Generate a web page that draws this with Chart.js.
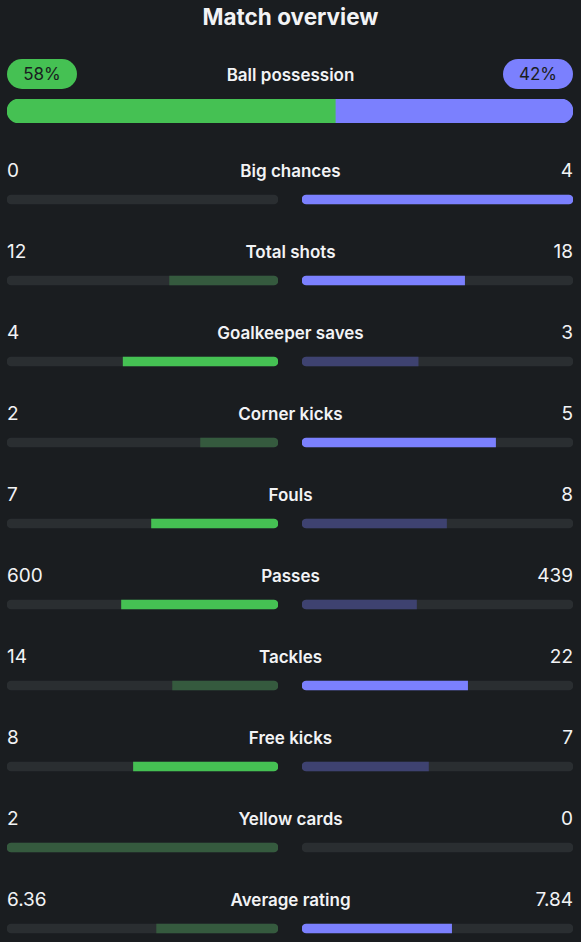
<!DOCTYPE html>
<html>
<head>
<meta charset="utf-8">
<script src="https://cdn.jsdelivr.net/npm/chart.js@4"></script>
<style>
  html, body { margin: 0; padding: 0; }
  body {
    width: 581px; height: 942px; overflow: hidden; position: relative;
    background: #1a1d20; color: #f2f3f5; font-family: Inter, "Noto Sans", sans-serif;
  }
  .title { position: absolute; top: 3px; left: 0; width: 581px; text-align: center;
    font-size: 22.5px; font-weight: 700; line-height: 28px; }
  .label { position: absolute; left: 120px; width: 341px; text-align: center;
    font-size: 17px; font-weight: 600; line-height: 22px; }
  .val { position: absolute; font-size: 19px; line-height: 22px; }
  .val.l { left: 7px; }
  .val.r { right: 8px; text-align: right; }
  .pill { position: absolute; top: 59px; width: 70px; height: 30px; border-radius: 15px;
    color: #1a1d20; font-size: 17px; line-height: 30px; text-align: center; }
  .box { position: absolute; }
</style>
</head>
<body>
<div class="title">Match overview</div>
<div class="pill" id="pillHome" style="left:7px;background:#45c153"></div>
<div class="pill" id="pillAway" style="left:503px;background:#7b80fe"></div>
<div class="label" style="top:64px">Ball possession</div>
<div class="box" style="left:7px;top:99px;width:566px;height:24px"><canvas id="possession" width="566" height="24"></canvas></div>
<div id="texts"></div>
<div class="box" style="left:7px;top:159px;width:271px;height:810px"><canvas id="homeBars" width="271" height="810"></canvas></div>
<div class="box" style="left:302px;top:159px;width:271px;height:810px"><canvas id="awayBars" width="271" height="810"></canvas></div>
<script>
  const categories = ['Big chances', 'Total shots', 'Goalkeeper saves', 'Corner kicks', 'Fouls',
    'Passes', 'Tackles', 'Free kicks', 'Yellow cards', 'Average rating'];
  const homeValues = [0, 12, 4, 2, 7, 600, 14, 8, 2, 6.36];
  const awayValues = [4, 18, 3, 5, 8, 439, 22, 7, 0, 7.84];
  const lowerIsBetter = ['Fouls', 'Yellow cards'];
  const possession = [58, 42];

  const GREEN = '#45c153', GREEN_DIM = '#355a3e';
  const BLUE = '#7b80fe', BLUE_DIM = '#3e4270';
  const TRACK = '#2a2e31';

  document.getElementById('pillHome').textContent = possession[0] + '%';
  document.getElementById('pillAway').textContent = possession[1] + '%';

  // texts for each stat row
  const texts = document.getElementById('texts');
  categories.forEach((c, i) => {
    const top = 160 + i * 81;
    texts.insertAdjacentHTML('beforeend',
      `<div class="val l" style="top:${top}px">${homeValues[i]}</div>` +
      `<div class="label" style="top:${top}px">${c}</div>` +
      `<div class="val r" style="top:${top}px">${awayValues[i]}</div>`);
  });

  const share = (v, i) => {
    const sum = homeValues[i] + awayValues[i];
    return sum && v ? v / sum : null;
  };
  const homeWins = categories.map((c, i) => lowerIsBetter.includes(c)
    ? homeValues[i] < awayValues[i] : homeValues[i] > awayValues[i]);
  const awayWins = categories.map((c, i) => lowerIsBetter.includes(c)
    ? awayValues[i] < homeValues[i] : awayValues[i] > homeValues[i]);

  function sideChart(id, values, wins, bright, dim, reverse) {
    const fracs = values.map((v, i) => share(v, i));
    new Chart(document.getElementById(id), {
      type: 'bar',
      data: {
        labels: categories,
        datasets: [{
          data: fracs,
          backgroundColor: wins.map(w => w ? bright : dim),
          borderRadius: 4.5,
          borderSkipped: ctx => fracs[ctx.dataIndex] >= 1 ? false : 'end',
          barThickness: 9,
          grouped: false
        }, {
          data: categories.map(() => 1),
          backgroundColor: TRACK,
          borderRadius: 4.5,
          borderSkipped: false,
          barThickness: 9,
          grouped: false
        }]
      },
      options: {
        indexAxis: 'y',
        responsive: false,
        animation: false,
        events: [],
        layout: { padding: 0 },
        plugins: { legend: { display: false }, tooltip: { enabled: false } },
        scales: {
          x: { display: false, min: 0, max: 1, reverse },
          y: { display: false }
        }
      }
    });
  }

  sideChart('homeBars', homeValues, homeWins, GREEN, GREEN_DIM, true);
  sideChart('awayBars', awayValues, awayWins, BLUE, BLUE_DIM, false);

  new Chart(document.getElementById('possession'), {
    type: 'bar',
    data: {
      labels: ['Ball possession'],
      datasets: [{
        data: [possession[0]],
        backgroundColor: GREEN,
        borderRadius: { topLeft: 12, bottomLeft: 12 },
        borderSkipped: false
      }, {
        data: [possession[1]],
        backgroundColor: BLUE,
        borderRadius: { topRight: 12, bottomRight: 12 },
        borderSkipped: false
      }]
    },
    options: {
      indexAxis: 'y',
      responsive: false,
      animation: false,
      events: [],
      layout: { padding: 0 },
      datasets: { bar: { barPercentage: 1, categoryPercentage: 1 } },
      plugins: { legend: { display: false }, tooltip: { enabled: false } },
      scales: {
        x: { display: false, stacked: true, min: 0, max: 100 },
        y: { display: false, stacked: true }
      }
    }
  });
</script>
</body>
</html>
